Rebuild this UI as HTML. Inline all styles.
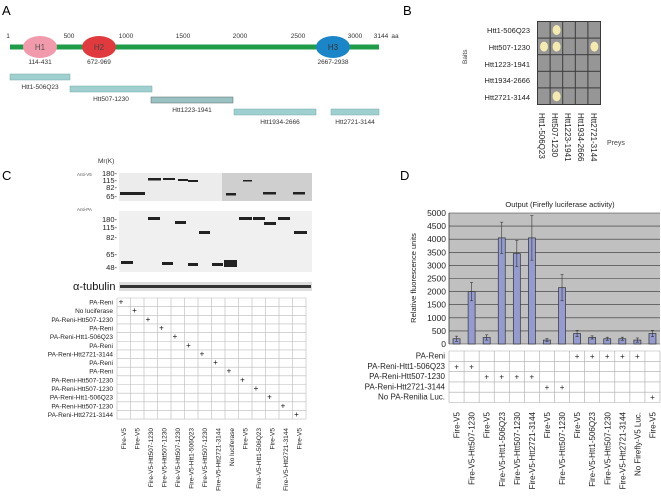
<!DOCTYPE html>
<html><head><meta charset="utf-8">
<style>
html,body{margin:0;padding:0;background:#fff;}
svg{display:block;font-family:"Liberation Sans",sans-serif;}
</style></head>
<body>
<svg id="fig" width="661" height="502" viewBox="0 0 661 502">
<!-- Panel A -->
<g>
<text x="2" y="15" font-size="13">A</text>
<g font-size="6.5" fill="#333">
<text x="8" y="38" text-anchor="middle">1</text>
<text x="69" y="38" text-anchor="middle">500</text>
<text x="126" y="38" text-anchor="middle">1000</text>
<text x="183" y="38" text-anchor="middle">1500</text>
<text x="240" y="38" text-anchor="middle">2000</text>
<text x="298" y="38" text-anchor="middle">2500</text>
<text x="355" y="38" text-anchor="middle">3000</text>
<text x="381" y="38" text-anchor="middle">3144</text>
<text x="395" y="38" text-anchor="middle">aa</text>
</g>
<rect x="10" y="44.5" width="369" height="5" fill="#1e9c48"/>
<ellipse cx="40" cy="47" rx="17" ry="11" fill="#f19aac"/>
<text x="40" y="50" font-size="8" text-anchor="middle" fill="#555">H1</text>
<ellipse cx="99" cy="47" rx="17" ry="11" fill="#e03a3e"/>
<text x="99" y="50" font-size="8" text-anchor="middle" fill="#444">H2</text>
<ellipse cx="333" cy="47" rx="17" ry="11" fill="#1a86c8"/>
<text x="333" y="50" font-size="8" text-anchor="middle" fill="#333">H3</text>
<g font-size="6.5" fill="#333" text-anchor="middle">
<text x="40" y="64">114-431</text><text x="99" y="64">672-969</text><text x="333" y="64">2667-2938</text>
</g>
<g fill="#9fcfcf" stroke="#7aa" stroke-width="0.5">
<rect x="10" y="74" width="60" height="6"/><rect x="70" y="86" width="82" height="6"/>
<rect x="151" y="97" width="82" height="6" fill="#9ac2c2" stroke="#566"/><rect x="234" y="109" width="82" height="6"/>
<rect x="331" y="109" width="48" height="6"/>
</g>
<g font-size="6.5" fill="#333" text-anchor="middle">
<text x="40" y="89">Htt1-506Q23</text><text x="111" y="101">Htt507-1230</text>
<text x="192" y="112">Htt1223-1941</text><text x="280" y="124">Htt1934-2666</text><text x="355" y="124">Htt2721-3144</text>
</g>
</g>
<!-- Panel B -->
<g>
<text x="403" y="15" font-size="13">B</text>
<rect x="537" y="21" width="64" height="84" fill="#3a3a3a"/>
<g id="ygrid"></g>
<g font-size="7.5" fill="#222" text-anchor="end">
<text x="530" y="33">Htt1-506Q23</text><text x="530" y="50">Htt507-1230</text><text x="530" y="67">Htt1223-1941</text>
<text x="530" y="83">Htt1934-2666</text><text x="530" y="100">Htt2721-3144</text>
</g>
<text transform="translate(467,64) rotate(-90)" font-size="6.5" fill="#444">Baits</text>
<g font-size="8" fill="#222">
<text transform="translate(539,113) rotate(90)">Htt1-506Q23</text>
<text transform="translate(552,113) rotate(90)">Htt507-1230</text>
<text transform="translate(565,113) rotate(90)">Htt1223-1941</text>
<text transform="translate(578,113) rotate(90)">Htt1934-2666</text>
<text transform="translate(591,113) rotate(90)">Htt2721-3144</text>
</g>
<text x="607" y="145" font-size="7" fill="#444">Preys</text>
</g>
<!-- Panel C -->
<g>
<text x="2" y="180" font-size="13">C</text>
<text x="98" y="163" font-size="6.5" fill="#333">Mr(K)</text>
<text x="77" y="176" font-size="4.5" fill="#555">Anti-V5</text>
<text x="77" y="211" font-size="4.5" fill="#555">Anti-PA</text>
<g font-size="7.5" fill="#222" text-anchor="end">
<text x="117" y="176">180-</text><text x="117" y="183">115-</text><text x="117" y="190">82-</text><text x="117" y="199">65-</text>
<text x="117" y="222">180-</text><text x="117" y="230">115-</text><text x="117" y="240">82-</text><text x="117" y="257">65-</text><text x="117" y="270">48-</text>
</g>
<rect x="119" y="173" width="103" height="28" fill="#ececec"/>
<rect x="222" y="173" width="90" height="28" fill="#cfcfcf"/>
<g fill="#222">
<rect x="120" y="192" width="25" height="3"/><rect x="148" y="178" width="13" height="2.5"/><rect x="163" y="178" width="12" height="2"/>
<rect x="178" y="179" width="10" height="2"/><rect x="188" y="180" width="10" height="2"/><rect x="226" y="193" width="10" height="2.5"/>
<rect x="243" y="180" width="9" height="1.5"/><rect x="263" y="192" width="13" height="2.5"/><rect x="293" y="192" width="12" height="2.5"/>
</g>
<rect x="119" y="211" width="193" height="61" fill="#f0f0f0"/>
<g fill="#222">
<rect x="121" y="261" width="12" height="3"/><rect x="148" y="217" width="12" height="3"/><rect x="162" y="262" width="11" height="3"/>
<rect x="175" y="221" width="11" height="3"/><rect x="188" y="263" width="10" height="3"/><rect x="199" y="231" width="11" height="3"/>
<rect x="212" y="263" width="11" height="3"/><rect x="224" y="260" width="13" height="7"/><rect x="239" y="217" width="13" height="3"/>
<rect x="253" y="217" width="12" height="3"/><rect x="264" y="222" width="12" height="3"/><rect x="278" y="217" width="12" height="3"/>
<rect x="294" y="231" width="13" height="3"/>
</g>
<rect x="119" y="282" width="193" height="9" fill="#ddd"/>
<rect x="120" y="285" width="191" height="3" fill="#333"/>
<text x="73" y="290" font-size="11" fill="#111">α-tubulin</text>
<g id="ctable"></g>
</g>
<!-- Panel D -->
<g>
<text x="400" y="180" font-size="13">D</text>
<text x="560" y="207" font-size="7.5" text-anchor="middle" fill="#222">Output (Firefly luciferase activity)</text>
<text transform="translate(416,278) rotate(-90)" font-size="7.5" text-anchor="middle" fill="#222">Relative fluorescence units</text>
<g id="chart"></g>
<g id="dtable"></g>
</g>
</svg>
<script>
const NS='http://www.w3.org/2000/svg';
function mk(tag,attrs,parent,txt){const e=document.createElementNS(NS,tag);for(const k in attrs)e.setAttribute(k,attrs[k]);if(txt!==undefined)e.textContent=txt;parent.appendChild(e);return e;}

// Panel B grid
const yg=document.getElementById('ygrid');
const colonies=[[0,1,0,0,0],[1,1,0,0,1],[0,0,0,0,0],[0,0,0,0,0],[0,1,0,0,0]];
for(let r=0;r<5;r++)for(let c=0;c<5;c++){
 const cell=mk('rect',{x:538+c*12.6,y:22+r*16.6,width:11.6,height:15.6,fill:'#969696'},yg);
 
 
 if(colonies[r][c]){mk('ellipse',{cx:544+c*12.6,cy:30+r*16.6,rx:4,ry:5,fill:'#f4eab0'},yg);}
}

// Panel C table
const cRows=['PA-Reni','No luciferase','PA-Reni-Htt507-1230','PA-Reni','PA-Reni-Htt1-506Q23','PA-Reni','PA-Reni-Htt2721-3144','PA-Reni','PA-Reni','PA-Reni-Htt507-1230','PA-Reni-Htt507-1230','PA-Reni-Htt1-506Q23','PA-Reni-Htt507-1230','PA-Reni-Htt2721-3144'];
const cCols=['Fire-V5','Fire-V5','Fire-V5-Htt507-1230','Fire-V5-Htt507-1230','Fire-V5-Htt507-1230','Fire-V5-Htt1-506Q23','Fire-V5-Htt507-1230','Fire-V5-Htt2721-3144','No luciferase','Fire-V5','Fire-V5-Htt1-506Q23','Fire-V5','Fire-V5-Htt2721-3144','Fire-V5'];
const ct=document.getElementById('ctable');
const cx0=117,cy0=298,cw=13.5,ch=8.65;
for(let i=0;i<=14;i++){mk('line',{x1:cx0+i*cw,y1:cy0,x2:cx0+i*cw,y2:cy0+14*ch,stroke:'#bbb','stroke-width':0.6},ct);
 mk('line',{x1:cx0,y1:cy0+i*ch,x2:cx0+14*cw,y2:cy0+i*ch,stroke:'#bbb','stroke-width':0.6},ct);}
cRows.forEach((t,i)=>{const e=mk('text',{x:113,y:cy0+i*ch+6.5,'font-size':6.5,'text-anchor':'end',fill:'#222'},ct,t);
 
 
 mk('text',{x:cx0+i*cw+4,y:cy0+i*ch+6.5,'font-size':8,'text-anchor':'middle',fill:'#111'},ct,'+');});
cCols.forEach((t,i)=>{const e=mk('text',{transform:`translate(${cx0+i*cw+9},428) rotate(-90)`,'font-size':6.5,'text-anchor':'end',fill:'#222'},ct,t);
 
 });

// Panel D chart data
const categories=['Fire-V5','Fire-V5-Htt507-1230','Fire-V5','Fire-V5-Htt1-506Q23','Fire-V5-Htt507-1230','Fire-V5-Htt2721-3144','Fire-V5','Fire-V5-Htt507-1230','Fire-V5','Fire-V5-Htt1-506Q23','Fire-V5-Htt507-1230','Fire-V5-Htt2721-3144','No Firefly-V5 Luc.','Fire-V5'];
const values=[200,2000,250,4050,3450,4050,150,2150,400,250,200,200,150,400];
const errors=[100,350,100,600,500,850,60,500,120,60,60,60,80,120];
const yTicks=[0,500,1000,1500,2000,2500,3000,3500,4000,4500,5000];
const dRows=['PA-Reni','PA-Reni-Htt1-506Q23','PA-Reni-Htt507-1230','PA-Reni-Htt2721-3144','No PA-Renilia Luc.'];
const dMarks=[[8,9,10,11,12],[0,1],[2,3,4,5],[6,7],[13]];

const px0=449,px1=660,py0=344,py1=213,yMax=5000;
const y=v=>py0-(v/yMax)*(py0-py1);
const band=(px1-px0)/categories.length;
const x=i=>px0+band*(i+0.5);
const ch2=document.getElementById('chart');
const bg=mk('rect',{x:px0,y:py1,width:px1-px0,height:py0-py1,fill:'#c0c0c0'},ch2);


yTicks.forEach(t=>{mk('line',{x1:px0,x2:px1,y1:y(t),y2:y(t),stroke:'#333','stroke-width':0.6},ch2);
 const l=mk('text',{x:446,y:y(t)+3,'font-size':8.5,'text-anchor':'end',fill:'#222'},ch2,t);
 
 });
mk('line',{x1:px0,x2:px0,y1:py1,y2:py0,stroke:'#333','stroke-width':0.8},ch2);
values.forEach((v,i)=>{
 const b=mk('rect',{x:x(i)-3.5,y:y(v),width:7,height:py0-y(v),fill:'#949bd0',stroke:'#333','stroke-width':0.7},ch2);
 
 
 const e=errors[i];
 mk('line',{x1:x(i),x2:x(i),y1:y(v+e),y2:y(Math.max(0,v-e)),stroke:'#333','stroke-width':0.6},ch2);
 mk('line',{x1:x(i)-1.5,x2:x(i)+1.5,y1:y(v+e),y2:y(v+e),stroke:'#333','stroke-width':0.6},ch2);
 mk('line',{x1:x(i)-1.5,x2:x(i)+1.5,y1:y(Math.max(0,v-e)),y2:y(Math.max(0,v-e)),stroke:'#333','stroke-width':0.6},ch2);
});
// Panel D table
const dt=document.getElementById('dtable');
const ty0=351,rh=10.3;
for(let i=0;i<=14;i++)mk('line',{x1:px0+i*band,x2:px0+i*band,y1:ty0,y2:ty0+5*rh,stroke:'#aaa','stroke-width':0.6},dt);
for(let r=0;r<=5;r++)mk('line',{x1:px0,x2:px1,y1:ty0+r*rh,y2:ty0+r*rh,stroke:'#aaa','stroke-width':0.6},dt);
dRows.forEach((t,r)=>{const e=mk('text',{x:445,y:ty0+r*rh+7.5,'font-size':8,'text-anchor':'end',fill:'#222'},dt,t);
 
 
 dMarks[r].forEach(c=>mk('text',{x:x(c),y:ty0+r*rh+8,'font-size':8,'text-anchor':'middle',fill:'#222'},dt,'+'));});
categories.forEach((t,i)=>{const e=mk('text',{transform:`translate(${x(i)+3},412) rotate(-90)`,'font-size':8,'text-anchor':'end',fill:'#222'},dt,t);
 
 });
</script>
</body></html>
